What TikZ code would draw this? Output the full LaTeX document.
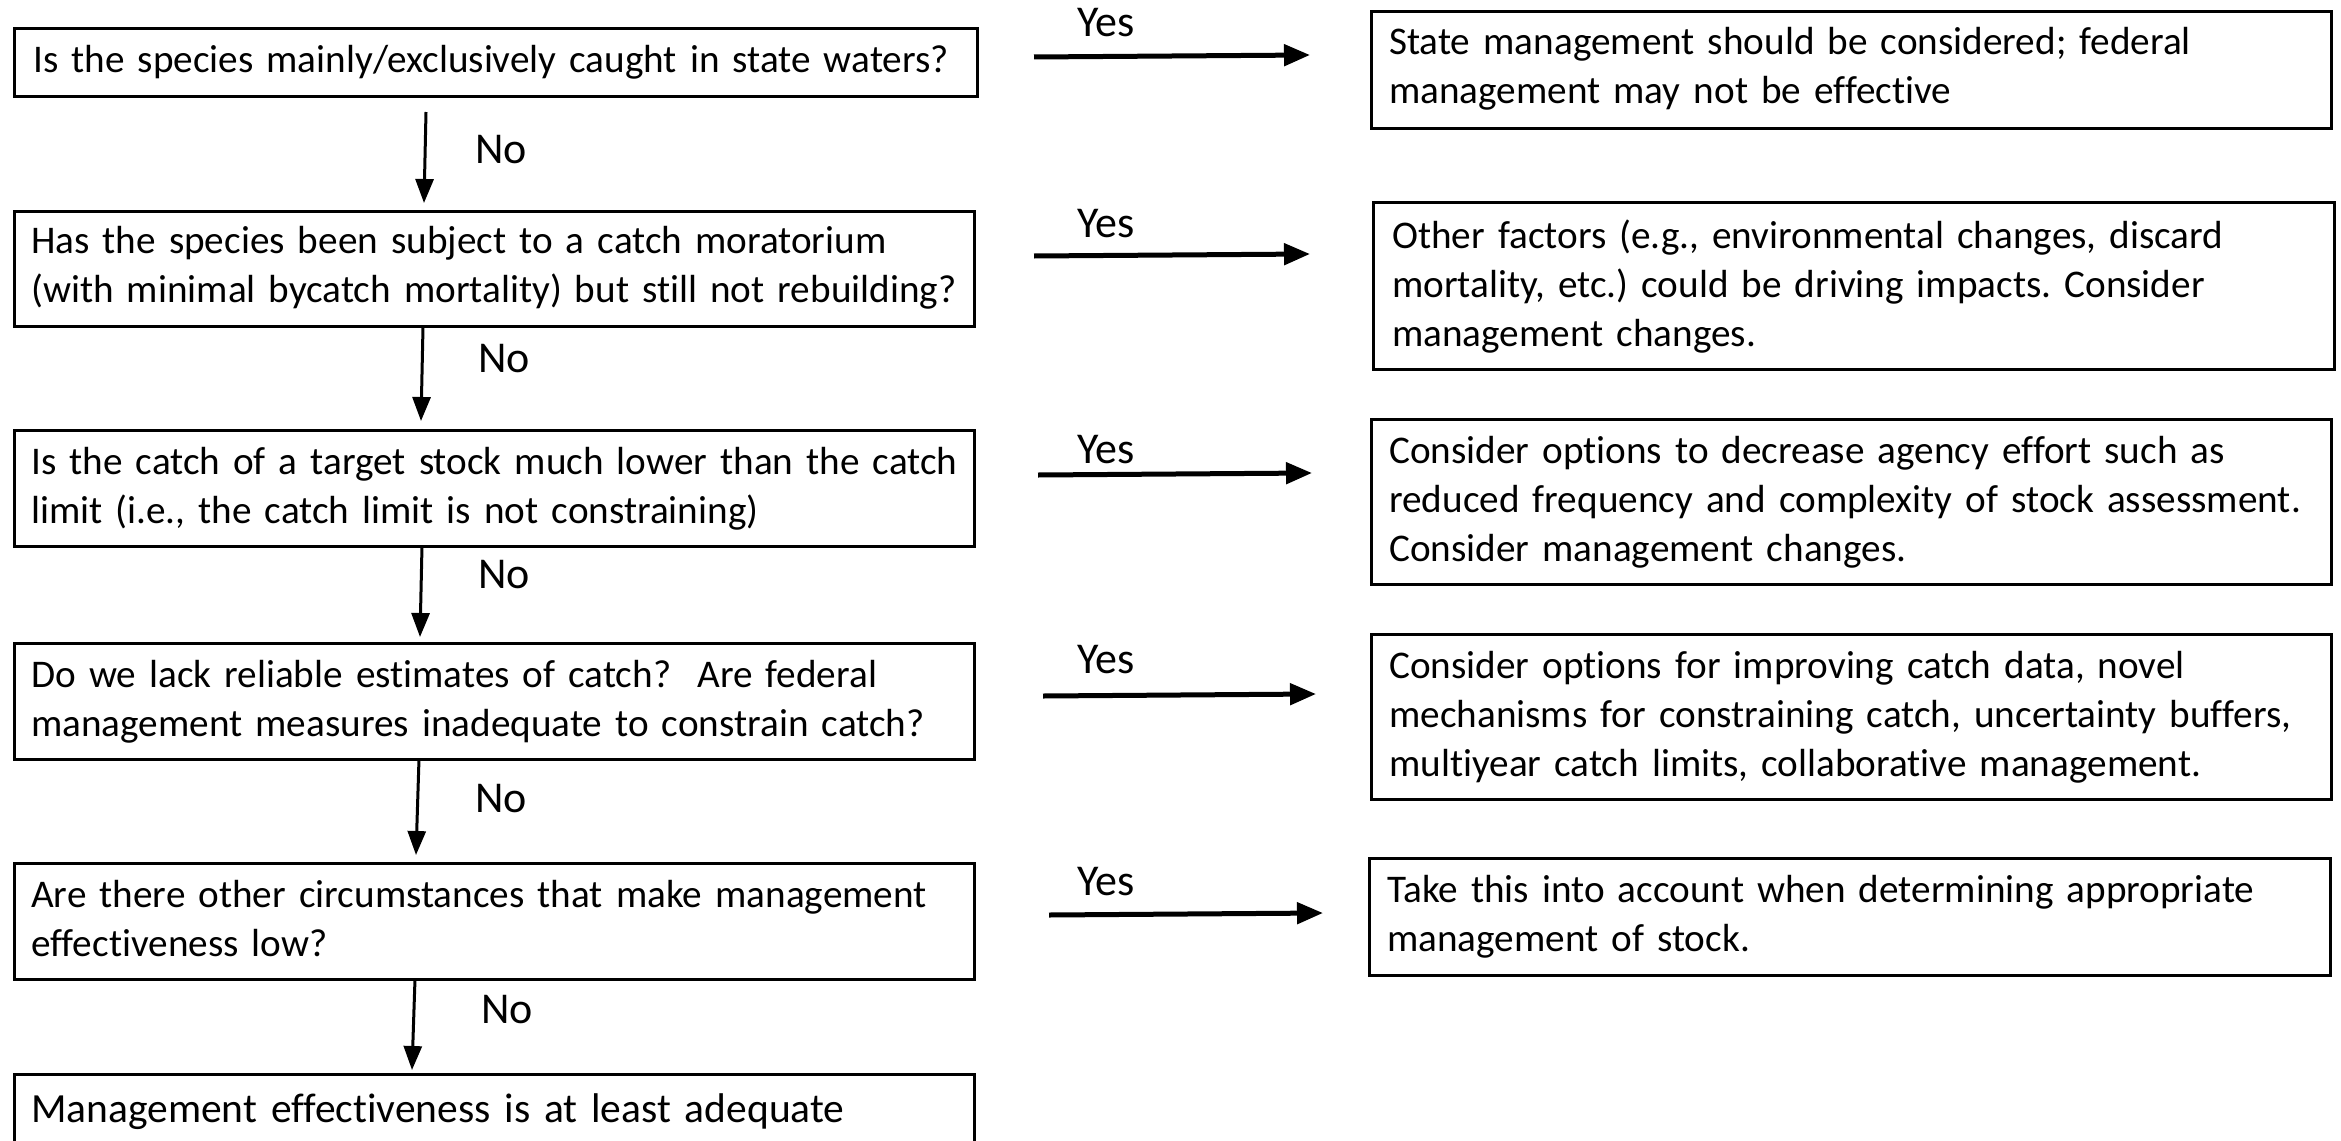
\documentclass[tikz,border=0pt]{standalone}
\usepackage{fontspec}
\setmainfont{Carlito}[Ligatures=NoCommon]
\usetikzlibrary{arrows.meta}
\tikzset{
  box/.style={draw=black, line width=3pt, inner sep=0pt, anchor=north west},
  txt/.style={inner sep=0pt, align=left, text width=960pt, anchor=base west,
    font=\fontsize{39.2}{49}\selectfont\frenchspacing},
  bigtxt/.style={txt, font=\fontsize{41.5}{52}\selectfont\frenchspacing},
  lbl/.style={inner sep=0pt, anchor=base west, font=\fontsize{44}{52}\selectfont},
  downarr/.style={line width=3pt, -{Triangle[length=24pt,width=18pt]}},
  yesarr/.style={line width=5pt, -{Triangle[length=26pt,width=21pt]}}
}
\begin{document}
\frenchspacing
\begin{tikzpicture}[x=1pt,y=-1pt]
\useasboundingbox (0,0) rectangle (2341,1140);
\clip (0,0) rectangle (2341,1140);
\fill[white] (0,0) rectangle (2341,1140);

% left column boxes
\node[box, minimum width=963pt, minimum height=68pt] (q1) at (13,27) {};
\node[box, minimum width=960pt, minimum height=115pt] (q2) at (13,210) {};
\node[box, minimum width=960pt, minimum height=116pt] (q3) at (13,429) {};
\node[box, minimum width=960pt, minimum height=116pt] (q4) at (13,642) {};
\node[box, minimum width=960pt, minimum height=116pt] (q5) at (13,862) {};
\node[box, minimum width=960pt, minimum height=110pt] (q6) at (13,1073) {};

\node[txt] (q1t) at (33,72) {Is the species mainly/exclusively caught in state waters?};
\node[txt] (q2t) at (31,253) {Has the species been subject to a catch moratorium\\(with minimal bycatch mortality) but still not rebuilding?};
\node[txt] (q3t) at (31,474) {Is the catch of a target stock much lower than the catch\\limit (i.e., the catch limit is not constraining)};
\node[txt] (q4t) at (31,687) {Do we lack reliable estimates of catch?\ \ Are federal\\management measures inadequate to constrain catch?};
\node[txt] (q5t) at (31,907) {Are there other circumstances that make management\\effectiveness low?};
\node[bigtxt] (q6t) at (31,1122) {Management effectiveness is at least adequate};

% right column boxes
\node[box, minimum width=960pt, minimum height=117pt] (r1) at (1370,10) {};
\node[box, minimum width=961pt, minimum height=167pt] (r2) at (1372,201) {};
\node[box, minimum width=960pt, minimum height=165pt] (r3) at (1370,418) {};
\node[box, minimum width=960pt, minimum height=165pt] (r4) at (1370,633) {};
\node[box, minimum width=961pt, minimum height=117pt] (r5) at (1368,857) {};

\node[txt] (r1t) at (1389,55) {State management should be considered; federal\\management may not be effective};
\node[txt] (r2t) at (1392,248) {Other factors (e.g., environmental changes, discard\\mortality, etc.) could be driving impacts. Consider\\management changes.};
\node[txt] (r3t) at (1389,463) {Consider options to decrease agency effort such as\\reduced frequency and complexity of stock assessment.\\Consider management changes.};
\node[txt] (r4t) at (1389,678) {Consider options for improving catch data, novel\\mechanisms for constraining catch, uncertainty buffers,\\multiyear catch limits, collaborative management.};
\node[txt] (r5t) at (1387,902) {Take this into account when determining appropriate\\management of stock.};

% No arrows
\coordinate (d1s) at (426,112); \coordinate (d1e) at (424,203);
\coordinate (d2s) at (423,327); \coordinate (d2e) at (421,421);
\coordinate (d3s) at (422,546); \coordinate (d3e) at (420,637);
\coordinate (d4s) at (419,759); \coordinate (d4e) at (416,855);
\coordinate (d5s) at (415,979); \coordinate (d5e) at (412,1070);
\draw[downarr] (d1s) -- (d1e);
\draw[downarr] (d2s) -- (d2e);
\draw[downarr] (d3s) -- (d3e);
\draw[downarr] (d4s) -- (d4e);
\draw[downarr] (d5s) -- (d5e);
\node[lbl] (no1) at (475,163) {No};
\node[lbl] (no2) at (478,372) {No};
\node[lbl] (no3) at (478,588) {No};
\node[lbl] (no4) at (475,812) {No};
\node[lbl] (no5) at (481,1023) {No};

% Yes arrows
\coordinate (y1s) at (1034,57); \coordinate (y1e) at (1310,55);
\coordinate (y2s) at (1034,256); \coordinate (y2e) at (1310,254);
\coordinate (y3s) at (1038,475); \coordinate (y3e) at (1312,473);
\coordinate (y4s) at (1043,696); \coordinate (y4e) at (1316,694);
\coordinate (y5s) at (1049,915); \coordinate (y5e) at (1323,913);
\draw[yesarr] (y1s) -- (y1e);
\draw[yesarr] (y2s) -- (y2e);
\draw[yesarr] (y3s) -- (y3e);
\draw[yesarr] (y4s) -- (y4e);
\draw[yesarr] (y5s) -- (y5e);
\node[lbl] (yes1) at (1077,37) {Yes};
\node[lbl] (yes2) at (1077,237) {Yes};
\node[lbl] (yes3) at (1077,463) {Yes};
\node[lbl] (yes4) at (1077,673) {Yes};
\node[lbl] (yes5) at (1077,895) {Yes};
\end{tikzpicture}
\end{document}
